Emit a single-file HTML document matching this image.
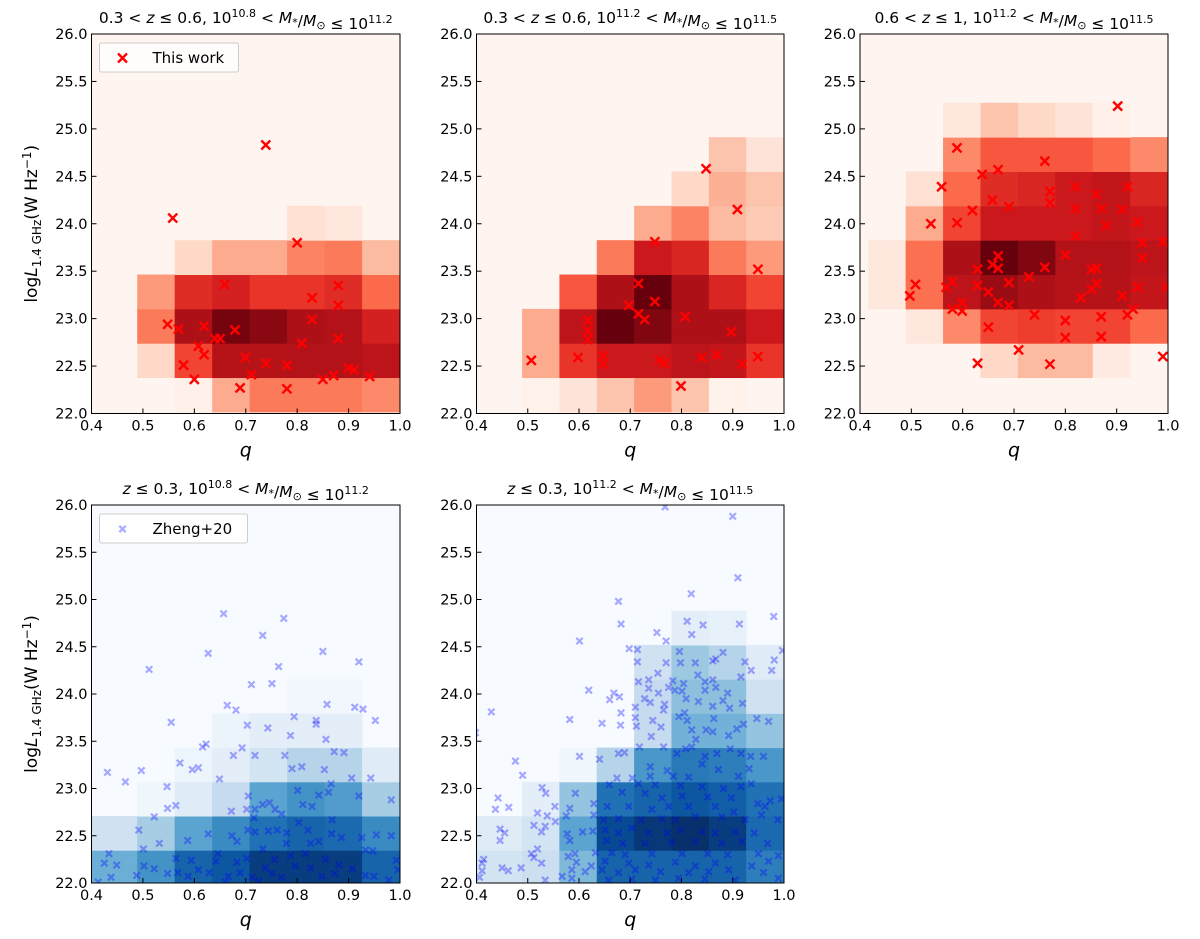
<!DOCTYPE html>
<html><head><meta charset="utf-8"><style>
html,body{margin:0;padding:0;background:#fff;}
svg{display:block;font-family:"DejaVu Sans","Liberation Sans",sans-serif;}
</style></head><body>
<svg id="fig" width="1200" height="939" viewBox="0 0 1200 939" xmlns="http://www.w3.org/2000/svg"></svg>
<script>
// ---------- DATA ----------
const xTicks = [0.4,0.5,0.6,0.7,0.8,0.9,1.0];
const xTickLabels = ["0.4","0.5","0.6","0.7","0.8","0.9","1.0"];
const yTicks = [22.0,22.5,23.0,23.5,24.0,24.5,25.0,25.5,26.0];
const yTickLabels = ["22.0","22.5","23.0","23.5","24.0","24.5","25.0","25.5","26.0"];

// heatmap intensities (rows from bottom, columns left->right)
const grid1 = [
 [0,0,0.03,0.3,0.45,0.45,0.45,0.4],
 [0,0.15,0.6,0.82,0.82,0.83,0.83,0.8],
 [0,0.45,0.85,0.97,0.93,0.85,0.83,0.72],
 [0,0.35,0.68,0.72,0.65,0.65,0.68,0.5],
 [0,0,0.15,0.3,0.3,0.42,0.45,0.25],
 [0,0,0,0,0,0.12,0.08,0]
];
const grid2 = [
 [0,0.02,0.1,0.22,0.35,0.22,0.02,0],
 [0,0.3,0.65,0.75,0.75,0.8,0.78,0.65],
 [0,0.3,0.8,1.0,0.95,0.85,0.85,0.75],
 [0,0,0.55,0.85,1.0,0.85,0.7,0.6],
 [0,0,0,0.45,0.75,0.7,0.45,0.35],
 [0,0,0,0,0.3,0.42,0.25,0.2],
 [0,0,0,0,0,0.15,0.28,0.22],
 [0,0,0,0,0,0,0.22,0.1]
];
const grid3 = [
 [0,0,0,0,0,0,0,0],
 [0,0,0,0.15,0.25,0.25,0.06,0],
 [0,0.08,0.4,0.6,0.62,0.6,0.6,0.5],
 [0.08,0.48,0.8,0.9,0.85,0.82,0.82,0.78],
 [0.08,0.48,0.85,1.0,0.95,0.83,0.83,0.8],
 [0,0.3,0.6,0.75,0.75,0.75,0.78,0.75],
 [0,0.12,0.5,0.68,0.7,0.75,0.78,0.7],
 [0,0,0.4,0.55,0.55,0.55,0.5,0.4],
 [0,0,0.08,0.22,0.15,0.1,0.03,0]
];
const grid4 = [
 [0.5,0.5,0.62,0.8,0.85,0.95,0.95,0.95,0.8],
 [0.2,0.2,0.35,0.55,0.65,0.75,0.8,0.78,0.65],
 [0,0,0.04,0.12,0.25,0.55,0.62,0.58,0.35],
 [0,0,0,0.05,0.1,0.18,0.3,0.3,0.12],
 [0,0,0,0,0.06,0.1,0.1,0.1,0],
 [0,0,0,0,0,0,0.03,0.03,0]
];
const grid5 = [
 [0.18,0.18,0.22,0.45,0.8,0.8,0.8,0.8,0.7],
 [0.12,0.12,0.18,0.55,0.9,0.97,1.0,0.95,0.78],
 [0,0,0.1,0.4,0.75,0.8,0.85,0.82,0.75],
 [0,0,0,0.04,0.3,0.6,0.72,0.7,0.6],
 [0,0,0,0,0,0.25,0.48,0.48,0.4],
 [0,0,0,0,0,0.25,0.42,0.42,0.2],
 [0,0,0,0,0,0.2,0.38,0.3,0.12],
 [0,0,0,0,0,0,0.1,0.08,0]
];

const pts1q = [0.739,0.558,0.800,0.659,0.880,0.829,0.880,0.548,0.569,0.619,0.679,0.829,0.640,0.650,0.880,0.608,0.809,0.619,0.699,0.739,0.780,0.579,0.711,0.600,0.689,0.780,0.850,0.871,0.900,0.911,0.941];
const pts1L = [24.83,24.06,23.80,23.36,23.35,23.22,23.14,22.94,22.89,22.92,22.88,22.99,22.79,22.79,22.79,22.71,22.74,22.62,22.59,22.53,22.51,22.51,22.41,22.36,22.27,22.26,22.36,22.40,22.48,22.46,22.39];
const pts2q = [0.848,0.909,0.748,0.949,0.716,0.748,0.697,0.716,0.728,0.807,0.617,0.617,0.617,0.897,0.507,0.598,0.647,0.647,0.757,0.768,0.839,0.869,0.918,0.949,0.799];
const pts2L = [24.58,24.15,23.81,23.52,23.37,23.18,23.14,23.05,22.99,23.02,22.98,22.87,22.78,22.86,22.56,22.59,22.61,22.52,22.56,22.53,22.59,22.62,22.52,22.60,22.29];
const pts3q = [0.902,0.589,0.760,0.638,0.669,0.559,0.770,0.770,0.820,0.861,0.921,0.658,0.690,0.820,0.870,0.911,0.619,0.538,0.589,0.880,0.941,0.820,0.950,0.990,0.950,0.669,0.800,0.658,0.669,0.629,0.760,0.851,0.861,0.580,0.568,0.508,0.497,0.629,0.690,0.729,0.650,0.851,0.861,0.941,0.997,0.830,0.911,0.669,0.690,0.599,0.580,0.599,0.932,0.921,0.740,0.800,0.870,0.650,0.800,0.870,0.709,0.629,0.770,0.990];
const pts3L = [25.24,24.80,24.66,24.52,24.57,24.39,24.34,24.22,24.39,24.31,24.39,24.25,24.18,24.16,24.16,24.15,24.14,24.00,24.01,23.98,24.02,23.87,23.80,23.81,23.64,23.66,23.67,23.57,23.53,23.52,23.54,23.52,23.53,23.39,23.33,23.36,23.24,23.35,23.38,23.44,23.28,23.31,23.37,23.33,23.33,23.22,23.24,23.17,23.14,23.17,23.10,23.08,23.10,23.04,23.04,22.98,23.02,22.91,22.80,22.81,22.67,22.53,22.52,22.60];
const pts4q = [0.657,0.774,0.733,0.627,0.850,0.920,0.512,0.764,0.711,0.751,0.664,0.681,0.858,0.912,0.928,0.555,0.703,0.743,0.794,0.837,0.837,0.952,0.787,0.856,0.616,0.623,0.693,0.676,0.718,0.776,0.872,0.891,0.431,0.497,0.572,0.596,0.608,0.790,0.809,0.853,0.466,0.547,0.649,0.906,0.943,0.866,0.801,0.842,0.861,0.920,0.983,0.705,0.548,0.564,0.672,0.702,0.718,0.733,0.746,0.757,0.811,0.829,0.770,0.522,0.716,0.803,0.868,0.492,0.627,0.673,0.704,0.718,0.744,0.761,0.780,0.821,0.867,0.886,0.926,0.954,0.983,0.532,0.587,0.683,0.779,0.826,0.842,0.501,0.434,0.933,0.947,0.733,0.646,0.702,0.756,0.787,0.816,0.855,0.993,0.425,0.449,0.502,0.522,0.564,0.594,0.642,0.683,0.738,0.796,0.826,0.881,0.907,0.996,0.438,0.488,0.548,0.568,0.588,0.608,0.629,0.666,0.689,0.712,0.751,0.770,0.848,0.873,0.933,0.949,0.978,0.413,0.660,0.725];
const pts4L = [24.85,24.80,24.62,24.43,24.45,24.34,24.26,24.29,24.10,24.11,23.88,23.83,23.89,23.86,23.84,23.70,23.67,23.64,23.76,23.72,23.68,23.72,23.56,23.52,23.44,23.47,23.43,23.35,23.35,23.35,23.39,23.38,23.17,23.19,23.27,23.20,23.22,23.21,23.23,23.20,23.07,23.02,23.10,23.11,23.11,23.05,22.98,22.93,22.96,22.92,22.88,22.92,22.79,22.82,22.76,22.78,22.78,22.83,22.85,22.78,22.83,22.81,22.73,22.70,22.69,22.64,22.67,22.56,22.52,22.50,22.56,22.54,22.55,22.56,22.53,22.56,22.52,22.48,22.48,22.51,22.50,22.42,22.45,22.44,22.42,22.42,22.44,22.36,22.31,22.35,22.34,22.36,22.31,22.26,22.25,22.29,22.31,22.25,22.24,22.21,22.19,22.18,22.15,22.26,22.24,22.23,22.22,22.16,22.18,22.16,22.19,22.15,22.14,22.06,22.08,22.10,22.11,22.07,22.14,22.11,22.07,22.11,22.06,22.10,22.06,22.07,22.10,22.08,22.07,22.03,22.01,22.01,22.02];
const pts5q = [0.768,0.900,0.910,0.819,0.677,0.980,0.682,0.811,0.842,0.913,0.752,0.820,0.601,0.770,0.698,0.714,0.796,0.881,0.997,0.714,0.770,0.798,0.827,0.861,0.867,0.924,0.981,0.936,0.976,0.754,0.832,0.916,0.716,0.736,0.783,0.804,0.846,0.861,0.619,0.736,0.775,0.787,0.755,0.801,0.846,0.867,0.890,0.668,0.679,0.660,0.728,0.739,0.809,0.833,0.881,0.919,0.767,0.429,0.682,0.710,0.765,0.806,0.861,0.894,0.582,0.645,0.681,0.710,0.744,0.760,0.795,0.811,0.820,0.828,0.848,0.861,0.863,0.892,0.908,0.921,0.947,0.970,0.398,0.712,0.741,0.718,0.765,0.791,0.808,0.820,0.846,0.869,0.895,0.916,0.935,0.960,0.677,0.689,0.601,0.640,0.476,0.739,0.772,0.840,0.872,0.911,0.932,0.490,0.674,0.704,0.739,0.784,0.814,0.528,0.716,0.749,0.798,0.840,0.882,0.916,0.936,0.659,0.442,0.535,0.593,0.684,0.729,0.762,0.801,0.851,0.897,0.949,0.973,0.995,0.437,0.463,0.553,0.582,0.629,0.655,0.697,0.742,0.775,0.814,0.866,0.902,0.963,0.519,0.538,0.575,0.629,0.648,0.677,0.721,0.762,0.788,0.827,0.879,0.924,0.956,0.988,0.554,0.512,0.534,0.446,0.455,0.527,0.577,0.607,0.627,0.651,0.677,0.703,0.736,0.772,0.798,0.840,0.866,0.905,0.942,0.968,0.446,0.582,0.654,0.685,0.729,0.781,0.827,0.879,0.918,0.519,0.507,0.592,0.632,0.664,0.690,0.742,0.801,0.851,0.890,0.950,0.989,0.512,0.414,0.579,0.411,0.527,0.595,0.624,0.651,0.697,0.736,0.788,0.827,0.866,0.937,0.970,0.450,0.462,0.487,0.411,0.586,0.612,0.645,0.677,0.710,0.759,0.814,0.853,0.892,0.960,0.406,0.567,0.586,0.534,0.658,0.703,0.749,0.794,0.846,0.905,0.989];
const pts5L = [25.98,25.88,25.23,25.06,24.98,24.82,24.74,24.77,24.73,24.74,24.65,24.63,24.56,24.56,24.48,24.47,24.45,24.44,24.46,24.34,24.33,24.33,24.33,24.35,24.37,24.34,24.36,24.25,24.25,24.22,24.20,24.18,24.13,24.15,24.14,24.11,24.13,24.15,24.04,24.06,24.07,24.04,24.01,24.03,24.04,24.07,24.01,24.01,23.97,23.94,23.95,23.91,23.95,23.92,23.93,23.90,23.89,23.81,23.80,23.86,23.83,23.80,23.87,23.85,23.73,23.69,23.67,23.75,23.72,23.65,23.76,23.72,23.62,23.52,23.62,23.60,23.74,23.56,23.63,23.68,23.74,23.71,23.59,23.66,23.55,23.44,23.44,23.37,23.42,23.44,23.34,23.37,23.42,23.37,23.34,23.34,23.37,23.38,23.34,23.31,23.29,23.23,23.19,23.26,23.20,23.13,23.21,23.14,23.11,23.11,23.13,23.13,23.12,23.01,23.05,23.04,23.03,23.02,23.00,23.02,23.05,23.04,22.90,22.95,22.95,22.96,22.95,22.90,22.92,22.91,22.90,22.84,22.87,22.89,22.78,22.80,22.81,22.79,22.84,22.81,22.81,22.78,22.81,22.81,22.81,22.75,22.81,22.74,22.71,22.71,22.72,22.67,22.68,22.67,22.68,22.67,22.70,22.70,22.67,22.72,22.67,22.65,22.61,22.60,22.57,22.53,22.54,22.52,22.54,22.55,22.56,22.53,22.58,22.53,22.53,22.56,22.54,22.53,22.54,22.53,22.42,22.45,22.45,22.45,22.42,22.42,22.43,22.44,22.42,22.44,22.36,22.31,22.31,22.32,22.32,22.30,22.31,22.31,22.31,22.30,22.31,22.29,22.27,22.25,22.28,22.21,22.21,22.22,22.18,22.23,22.21,22.19,22.22,22.18,22.21,22.18,22.23,22.16,22.13,22.16,22.13,22.14,22.12,22.14,22.11,22.14,22.12,22.11,22.12,22.14,22.11,22.06,22.07,22.05,22.03,22.03,22.04,22.03,22.05,22.04,22.03,22.05];

// ---------- RENDER ----------
const NS = "http://www.w3.org/2000/svg";
const svg = document.getElementById('fig');
function mk(tag, attrs, parent){ const e=document.createElementNS(NS,tag); for(const k in attrs) e.setAttribute(k,attrs[k]); (parent||svg).appendChild(e); return e; }
const REDS=["#fff5f0","#fee0d2","#fcbba1","#fc9272","#fb6a4a","#ef3b2c","#cb181d","#a50f15","#67000d"];
const BLUES=["#f7fbff","#deebf7","#c6dbef","#9ecae1","#6baed6","#4292c6","#2171b5","#08519c","#08306b"];
function hex(c){return [parseInt(c.slice(1,3),16),parseInt(c.slice(3,5),16),parseInt(c.slice(5,7),16)];}
function cmap(stops,v){ v=Math.max(0,Math.min(1,v)); const p=v*(stops.length-1); const i=Math.min(stops.length-2,Math.floor(p)); const f=p-i; const a=hex(stops[i]),b=hex(stops[i+1]); return "rgb("+a.map((x,j)=>Math.round(x+(b[j]-x)*f)).join(",")+")"; }

const panels = [
 {id:1,x0:91.5,x1:400,y0:34,y1:413.5,grid:grid1,cm:REDS,c0:0.416,r0:22.017,q:pts1q,L:pts1L,red:true,ylab:true,legend:"This work",
  title:[["0.3 < ",0],["z",1],[" ≤ 0.6, 10",0],["10.8",2],[" < ",0],["M",1],["*",3],["/",0],["M",1],["⊙",3],[" ≤ 10",0],["11.2",2]]},
 {id:2,x0:476.5,x1:784,y0:34,y1:413.5,grid:grid2,cm:REDS,c0:0.416,r0:22.017,q:pts2q,L:pts2L,red:true,
  title:[["0.3 < ",0],["z",1],[" ≤ 0.6, 10",0],["11.2",2],[" < ",0],["M",1],["*",3],["/",0],["M",1],["⊙",3],[" ≤ 10",0],["11.5",2]]},
 {id:3,x0:860,x1:1168,y0:34,y1:413.5,grid:grid3,cm:REDS,c0:0.416,r0:22.017,q:pts3q,L:pts3L,red:true,
  title:[["0.6 < ",0],["z",1],[" ≤ 1, 10",0],["11.2",2],[" < ",0],["M",1],["*",3],["/",0],["M",1],["⊙",3],[" ≤ 10",0],["11.5",2]]},
 {id:4,x0:91.5,x1:400,y0:505,y1:883,grid:grid4,cm:BLUES,c0:0.343,r0:21.985,q:pts4q,L:pts4L,red:false,ylab:true,legend:"Zheng+20",
  title:[["z",1],[" ≤ 0.3, 10",0],["10.8",2],[" < ",0],["M",1],["*",3],["/",0],["M",1],["⊙",3],[" ≤ 10",0],["11.2",2]]},
 {id:5,x0:476.5,x1:784,y0:505,y1:883,grid:grid5,cm:BLUES,c0:0.343,r0:21.985,q:pts5q,L:pts5L,red:false,
  title:[["z",1],[" ≤ 0.3, 10",0],["11.2",2],[" < ",0],["M",1],["*",3],["/",0],["M",1],["⊙",3],[" ≤ 10",0],["11.5",2]]}
];
const CW=0.0729, RH=0.362;

panels.forEach(P=>{
  const X=q=>P.x0+(q-0.4)/0.6*(P.x1-P.x0);
  const Y=l=>P.y1-(l-22)/4*(P.y1-P.y0);
  const g=mk('g',{});
  
  
  const clip=mk('clipPath',{id:'clip'+P.id},g);
  mk('rect',{x:P.x0,y:P.y0,width:P.x1-P.x0,height:P.y1-P.y0},clip);
  const bg=mk('rect',{x:P.x0,y:P.y0,width:P.x1-P.x0,height:P.y1-P.y0,fill:P.cm[0]},g);
  
  
  const hm=mk('g',{'clip-path':'url(#clip'+P.id+')'},g);
  
  
  P.grid.forEach((row,ri)=>row.forEach((v,ci)=>{
    if(v<=0) return;
    const qa=P.c0+ci*CW, qb=qa+CW, la=P.r0+ri*RH, lb=la+RH;
    const r=mk('rect',{x:X(qa),y:Y(lb),width:X(qb)-X(qa)+0.5,height:Y(la)-Y(lb)+0.5,fill:cmap(P.cm,v)},hm);
    
    
  }));
  const sc=mk('g',{'clip-path':'url(#clip'+P.id+')'},g);
  
  
  const s=P.red?4.5:3.2;
  P.q.forEach((q,i)=>{
    const cx=X(q), cy=Y(P.L[i]);
    const m=mk('path',{d:`M${cx-s},${cy-s}L${cx+s},${cy+s}M${cx-s},${cy+s}L${cx+s},${cy-s}`,stroke:P.red?'#ff0000':'#0000ff','stroke-width':P.red?2.4:2.2,'stroke-opacity':P.red?1:0.33,fill:'none'},sc);
    
    
  });
  const fr=mk('rect',{x:P.x0,y:P.y0,width:P.x1-P.x0,height:P.y1-P.y0,fill:'none',stroke:'#000','stroke-width':1},g);
  
  
  xTicks.forEach((t,i)=>{
    const x=X(t);
    mk('line',{x1:x,x2:x,y1:P.y1,y2:P.y1-5,stroke:'#000','stroke-width':1},g);
    const tx=mk('text',{x:x,y:P.y1+17,'font-size':14.5,'text-anchor':'middle'},g);
    tx.textContent=xTickLabels[i];
    
    
  });
  yTicks.forEach((t,i)=>{
    const y=Y(t);
    mk('line',{x1:P.x0,x2:P.x0+5,y1:y,y2:y,stroke:'#000','stroke-width':1},g);
    const ty=mk('text',{x:P.x0-4,y:y+5,'font-size':14.5,'text-anchor':'end'},g);
    ty.textContent=yTickLabels[i];
    
    
  });
  const xl=mk('text',{x:(P.x0+P.x1)/2,y:P.y1+43,'font-size':19,'font-style':'italic','text-anchor':'middle'},g);
  xl.textContent='q';
  
  
  if(P.ylab){
    const cy=(P.y0+P.y1)/2;
    const yl=mk('text',{x:0,y:0,'font-size':17,'text-anchor':'middle',transform:`translate(37,${cy}) rotate(-90)`},g);
    
    
    const parts=[["log",{}],["L",{'font-style':'italic'}],["1.4 GHz",{'font-size':12,dy:4}],["(W Hz",{dy:-4}],["−1",{'font-size':12,dy:-6}],[")",{dy:6}]];
    parts.forEach(p=>{const t=mk('tspan',p[1],yl);t.textContent=p[0];});
  }
  const tt=mk('text',{x:(P.x0+P.x1)/2,y:P.y0-11,'font-size':15.5,'text-anchor':'middle'},g);
  
  
  let sup=false;
  P.title.forEach(([txt,k])=>{
    const a={};
    if(k===1) a['font-style']='italic';
    if(k===2){a['font-size']=11;a.dy=-6;sup=true;}
    else if(sup){a.dy=6;sup=false;}
    if(k===3){a['font-size']=11; a.dy=(a.dy||0)+3; sup=false;}
    const t=mk('tspan',a,tt); t.textContent=txt;
    if(k===3){ const r=mk('tspan',{dy:-3,'font-size':15.5},tt); r.textContent=''; }
  });
  if(P.legend){
    const lg=mk('g',{},g);
    
    
    const w=P.red?139:148;
    mk('rect',{x:P.x0+8,y:P.y0+9,width:w,height:29,rx:2,fill:'#fff','fill-opacity':0.8,stroke:'#ccc','stroke-width':1},lg);
    const mx=P.x0+31, my=P.y0+24, s2=P.red?4.5:3.2;
    mk('path',{d:`M${mx-s2},${my-s2}L${mx+s2},${my+s2}M${mx-s2},${my+s2}L${mx+s2},${my-s2}`,stroke:P.red?'#ff0000':'#0000ff','stroke-width':P.red?2.4:2.2,'stroke-opacity':P.red?1:0.33},lg);
    const lt=mk('text',{x:P.x0+61,y:P.y0+29,'font-size':15},lg);
    lt.textContent=P.legend;
    
    
  }
});
</script>
</body></html>
